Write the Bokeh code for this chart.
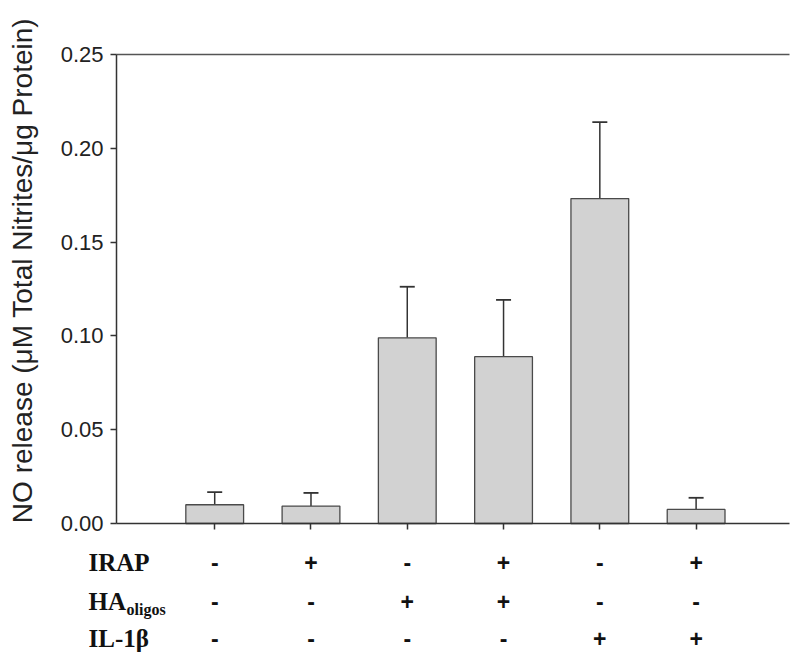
import math
from bokeh.plotting import figure
from bokeh.models import (Range1d, FixedTicker, LinearAxis, Whisker, TeeHead,
                          ColumnDataSource, NumeralTickFormatter)
from bokeh.core.properties import value
from bokeh.embed import file_html
from bokeh.resources import INLINE

# ---- data ----
groups = [1, 2, 3, 4, 5, 6]
means = [0.0100, 0.0093, 0.0990, 0.0889, 0.1732, 0.0075]
errors = [0.0067, 0.0070, 0.0272, 0.0303, 0.0407, 0.0062]
y_ticks = [0.00, 0.05, 0.10, 0.15, 0.20, 0.25]
row_names = ["IRAP", "HA", "IL-1β"]
irap = ["-", "+", "-", "+", "-", "+"]
ha_oligos = ["-", "-", "+", "+", "-", "-"]
il1b = ["-", "-", "-", "-", "+", "+"]
y_label = "NO release (μM Total Nitrites/μg Protein)"

# ---- layout (pixel placement of the value axes inside the canvas) ----
W, H = 792, 654
AX_L, AX_R, AX_T, AX_B = 116, 789, 54, 523   # plot box in canvas px
XA, XB = -0.02, 6.97                          # x data at AX_L / AX_R
YA, YB = 0.0, 0.25                            # y data at AX_B / AX_T
xpx = (AX_R - AX_L) / (XB - XA)
ypx = (AX_B - AX_T) / (YB - YA)


def xd(px):
    return XA + (px - AX_L) / xpx


def yd(py):
    return YA + (AX_B - py) / ypx


p = figure(width=W, height=H, output_backend="svg", toolbar_location=None,
           x_range=Range1d(xd(0), xd(W)), y_range=Range1d(yd(H), yd(0)),
           x_axis_type=None, y_axis_type=None,
           min_border=0, min_border_left=0, min_border_right=0,
           min_border_top=0, min_border_bottom=0)
p.outline_line_color = None
p.background_fill_color = "white"
p.border_fill_color = "white"

src = ColumnDataSource(dict(x=groups, top=means,
                            upper=[m + e for m, e in zip(means, errors)]))
p.vbar(x="x", top="top", bottom=0, width=0.6, source=src,
       fill_color="#d2d2d2", line_color="#4a4a4a", line_width=1.3)
p.add_layout(Whisker(base="x", lower="top", upper="upper", source=src,
                     dimension="height", line_color="#333333", line_width=1.5,
                     lower_head=None,
                     upper_head=TeeHead(size=15, line_color="#333333", line_width=1.8)))

AXC = "#333333"
# y axis
ya = LinearAxis(ticker=FixedTicker(ticks=y_ticks), formatter=NumeralTickFormatter(format="0.00"),
                fixed_location=XA, bounds=(YA, YB),
                major_tick_out=6, major_tick_in=0, minor_tick_line_color=None,
                axis_line_color=AXC, axis_line_width=1.5,
                major_tick_line_color=AXC, major_tick_line_width=1.5,
                major_label_text_font="Liberation Sans", major_label_text_font_size="22px",
                major_label_text_color="#222222", major_label_standoff=7)
p.add_layout(ya, "left")

# x axis
xa = LinearAxis(ticker=FixedTicker(ticks=groups), fixed_location=YA, bounds=(XA, XB),
                major_label_overrides={g: "" for g in groups},
                major_tick_out=6, major_tick_in=0, minor_tick_line_color=None,
                axis_line_color=AXC, axis_line_width=1.5,
                major_tick_line_color=AXC, major_tick_line_width=1.5)
p.add_layout(xa, "below")

# top line
ta = LinearAxis(ticker=FixedTicker(ticks=[]), fixed_location=YB, bounds=(XA, XB),
                major_tick_out=0, major_tick_in=0, minor_tick_line_color=None,
                axis_line_color="#555555", axis_line_width=1.5)
p.add_layout(ta, "above")

# y label
p.text(x=[xd(22)], y=[yd(270)], text=[y_label], angle=math.pi / 2,
       text_align="center", text_baseline="middle",
       text_font=value("Liberation Sans"), text_font_size="28px",
       text_color="#222222")

# condition rows
row_ys = [yd(562), yd(601), yd(638)]
for ys, signs in zip(row_ys, [irap, ha_oligos, il1b]):
    p.text(x=groups, y=[ys] * len(groups), text=signs,
           text_align="center", text_baseline="middle",
           text_font=value("Liberation Sans"), text_font_size="23px",
           text_font_style="bold", text_color="#111111")

p.text(x=[xd(88)] * 3, y=row_ys, text=row_names, text_align="left",
       text_baseline="middle", text_font=value("Liberation Serif"),
       text_font_style="bold", text_font_size="25px", text_color="#111111")
p.text(x=[xd(126)], y=[yd(609)], text=["oligos"], text_align="left",
       text_baseline="middle", text_font=value("Liberation Serif"),
       text_font_style="bold", text_font_size="16px", text_color="#111111")

open("out.html", "w").write(file_html(p, INLINE))
